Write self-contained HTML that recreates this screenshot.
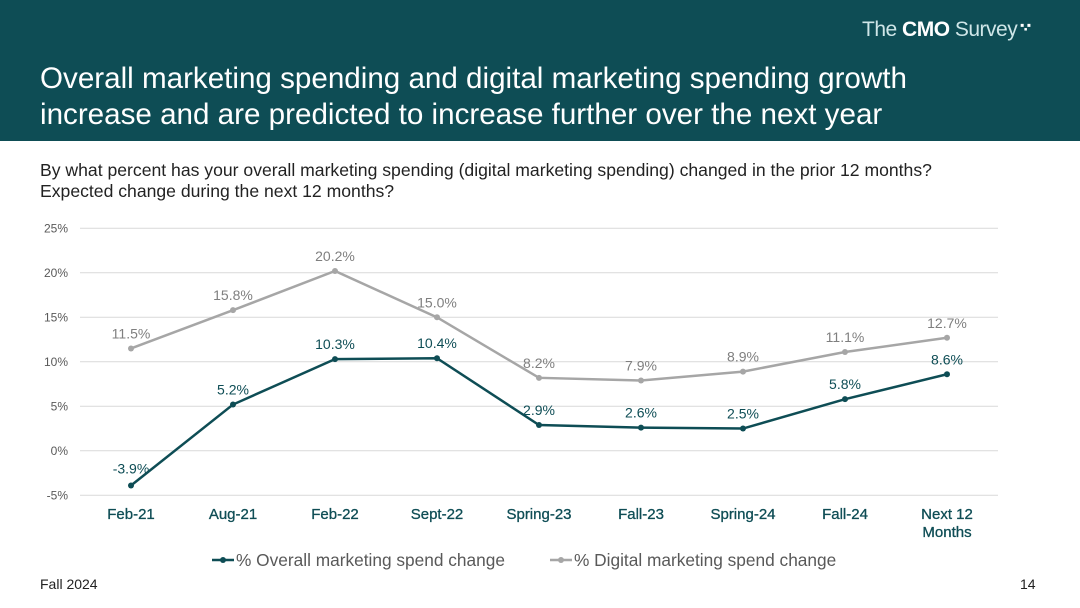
<!DOCTYPE html>
<html><head><meta charset="utf-8"><style>
body{margin:0;width:1080px;height:608px;overflow:hidden;background:#fff;font-family:"Liberation Sans",sans-serif;position:relative}
.hdr{position:absolute;left:0;top:0;width:1080px;height:141px;background:#0e4d55}
.title{position:absolute;left:40px;top:61px;color:#fff;font-size:29.6px;line-height:36px}
.logo{position:absolute;left:862px;top:18px;color:#cfe6e8;font-size:21px;letter-spacing:-0.5px}
.q{position:absolute;left:40px;top:160px;font-size:17.6px;line-height:21px;color:#222}
</style></head><body>
<div class="hdr"></div>
<div class="logo">The <b style="color:#fff">CMO</b> Survey<span style="color:#fff;font-size:12px;vertical-align:top"> ▪<sub>▪</sub>▪</span></div>
<div class="title">Overall marketing spending and digital marketing spending growth<br>increase and are predicted to increase further over the next year</div>
<div class="q">By what percent has your overall marketing spending (digital marketing spending) changed in the prior 12 months?<br>Expected change during the next 12 months?</div>
<svg id="chart" width="1080" height="608" style="position:absolute;left:0;top:0"></svg>
<div style="position:absolute;left:40px;top:576px;font-size:14px;color:#222">Fall 2024</div>
<div style="position:absolute;left:1020px;top:576px;font-size:14px;color:#222">14</div>
<script>
const categories=["Feb-21","Aug-21","Feb-22","Sept-22","Spring-23","Fall-23","Spring-24","Fall-24","Next 12|Months"];
const overall=[-3.9,5.2,10.3,10.4,2.9,2.6,2.5,5.8,8.6];
const digital=[11.5,15.8,20.2,15.0,8.2,7.9,8.9,11.1,12.7];
const yTicks=[-5,0,5,10,15,20,25];
const NS="http://www.w3.org/2000/svg";
const svg=document.getElementById('chart');
const x=i=>131+i*102;
const y=v=>450.8-v*8.9;
function mk(t,a,txt){const e=document.createElementNS(NS,t);for(const k in a)e.setAttribute(k,a[k]);if(txt!=null)e.textContent=txt;svg.appendChild(e);return e;}
yTicks.forEach(t=>{
 const g=mk('line',{x1:80,x2:998,y1:y(t),y2:y(t),stroke:'#d9d9d9','stroke-width':1});
 
 
 const l=mk('text',{x:68,y:y(t)+4,'text-anchor':'end','font-size':12,fill:'#595959'},t+'%');
 
 
});
categories.forEach((c,i)=>{
 c.split('|').forEach((p,j)=>{
  const l=mk('text',{x:x(i),y:519+j*18,'text-anchor':'middle','font-size':15,fill:'#0e4d55','stroke':'#0e4d55','stroke-width':0.3},p);
  
  
 });
});
function series(vals,col,name,lblCol){
 const p=mk('polyline',{points:vals.map((v,i)=>x(i)+','+y(v)).join(' '),fill:'none',stroke:col,'stroke-width':2.5});
 
 
 vals.forEach((v,i)=>{
  const c=mk('circle',{cx:x(i),cy:y(v),r:3,fill:col});
  
  
  const dy=(name==='overall'&&i===0)?-12:-10;
  const t=mk('text',{x:x(i),y:y(v)+dy,'text-anchor':'middle','font-size':14,fill:lblCol},v.toFixed(1)+'%');
  
  
 });
}
series(digital,'#a6a6a6','digital','#7f7f7f');
series(overall,'#0e4d55','overall','#0e4d55');
[[212,'#0e4d55','% Overall marketing spend change'],[550,'#a6a6a6','% Digital marketing spend change']].forEach(([lx,col,txt],k)=>{
 const l=mk('line',{x1:lx,x2:lx+22,y1:560,y2:560,stroke:col,'stroke-width':2.5});
 
 
 const c=mk('circle',{cx:lx+11,cy:560,r:3,fill:col});
 
 
 const t=mk('text',{x:lx+24,y:566,'font-size':17.3,fill:'#595959'},txt);
 
 
});
</script>
</body></html>
